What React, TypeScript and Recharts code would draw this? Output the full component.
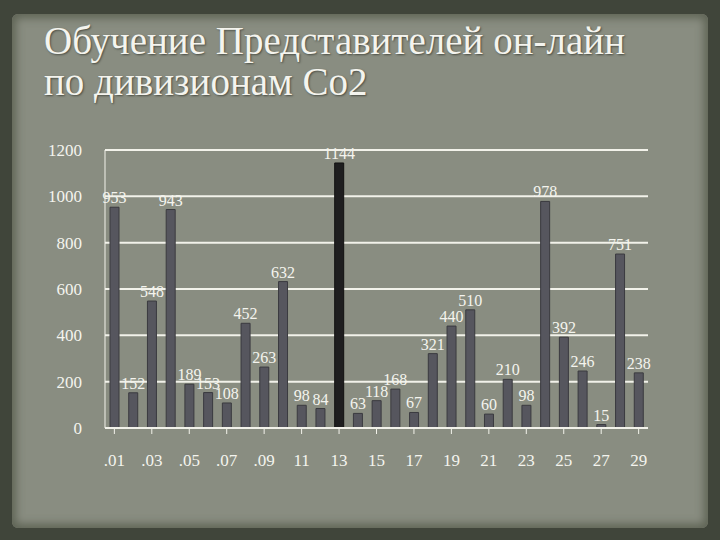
import React from "react";
import { BarChart, Bar, XAxis, YAxis, CartesianGrid, LabelList, Cell } from "recharts";

const categories = [".01", ".02", ".03", ".04", ".05", ".06", ".07", ".08", ".09", "10", "11", "12", "13", "14", "15", "16", "17", "18", "19", "20", "21", "22", "23", "24", "25", "26", "27", "28", "29"];
const values = [953, 152, 548, 943, 189, 153, 108, 452, 263, 632, 98, 84, 1144, 63, 118, 168, 67, 321, 440, 510, 60, 210, 98, 978, 392, 246, 15, 751, 238];
const yTicks = [0, 200, 400, 600, 800, 1000, 1200];
const highlight = "13";

const data = categories.map((c, i) => ({ name: c, value: values[i] }));

const FONT = "'Liberation Serif', 'DejaVu Serif', serif";

export default function App() {
  return (
    <div style={{ position: "absolute", left: 0, top: 0, width: 720, height: 540, background: "#40453a", overflow: "hidden", fontFamily: FONT }}>
      <div style={{ position: "absolute", left: 12, top: 14, width: 696, height: 514, background: "#898d81", borderRadius: 6, boxShadow: "0 0 8px 4px #5f6455 inset" }} />
      <div style={{ position: "absolute", left: 44, top: 20, color: "#f4f4ee", fontSize: 39, lineHeight: "41px", fontFamily: FONT, textShadow: "1px 1px 2px #4a4d44", whiteSpace: "nowrap" }}>
        <div>Обучение Представителей он-лайн</div>
        <div>по дивизионам Co2</div>
      </div>
      <div style={{ position: "absolute", left: 0, top: 0 }}>
        <BarChart width={720} height={540} data={data} margin={{ top: 150, right: 72, bottom: 72, left: 0 }} barCategoryGap="0%">
          <CartesianGrid vertical={false} stroke="#f2f2ea" strokeWidth={2} />
          <XAxis
            dataKey="name"
            height={40}
            interval={1}
            stroke="#f2f2ea"
            tick={{ fill: "#f4f4ee", fontSize: 17, fontFamily: FONT }}
            tickLine={{ stroke: "#f2f2ea" }}
            tickMargin={20}
            axisLine={{ stroke: "#f2f2ea", strokeWidth: 2 }}
          />
          <YAxis
            width={105}
            domain={[0, 1200]}
            ticks={yTicks}
            tick={{ fill: "#f4f4ee", fontSize: 17, fontFamily: FONT }}
            tickLine={false}
            tickMargin={17}
            axisLine={{ stroke: "#f2f2ea", strokeWidth: 1 }}
          />
          <Bar dataKey="value" barSize={9} isAnimationActive={false} stroke="#3a3a3f" strokeWidth={1}>
            {data.map((d) => (
              <Cell key={d.name} fill={d.name === highlight ? "#1e1e1f" : "#56565e"} stroke={d.name === highlight ? "#111" : "#3a3a3f"} />
            ))}
            <LabelList dataKey="value" position="top" offset={4} fill="#f4f4ee" fontSize={16} fontFamily={FONT} />
          </Bar>
        </BarChart>
      </div>
    </div>
  );
}
